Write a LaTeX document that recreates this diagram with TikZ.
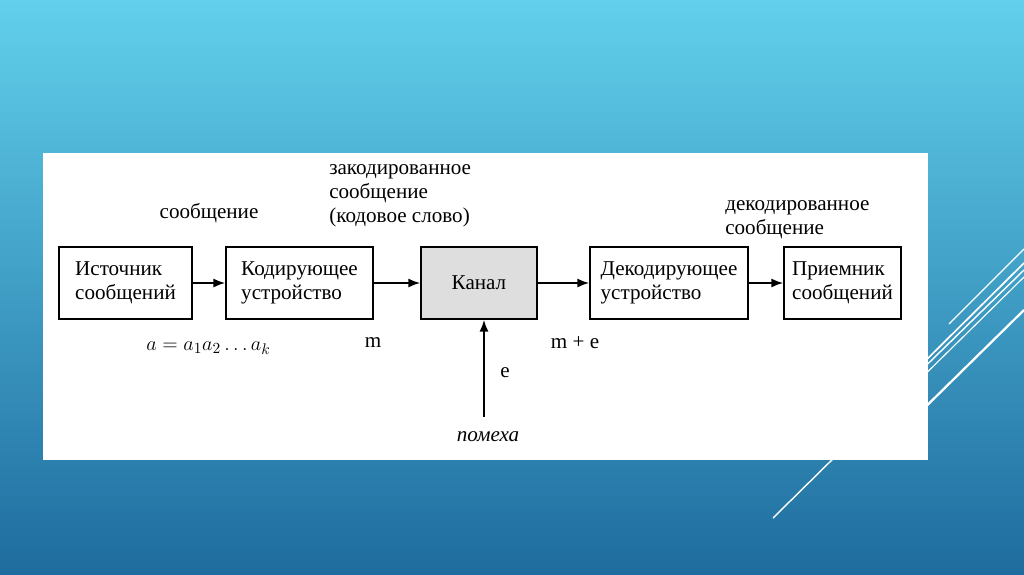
\documentclass[tikz,border=0pt]{standalone}
\usepackage{fontspec}
\setmainfont{Liberation Serif}
\usetikzlibrary{arrows.meta,positioning}
\definecolor{bgtop}{RGB}{98,208,236}
\definecolor{bgbot}{RGB}{30,108,158}
\definecolor{chgray}{RGB}{222,222,222}
\tikzset{
  blk/.style={draw, line width=1pt, minimum height=1.8cm, align=left, inner sep=2pt},
  lbl/.style={align=left, inner sep=0pt},
  flow/.style={-{Latex[length=3mm,width=2.3mm]}, line width=1.4pt},
  deco/.style={white, line width=#1},
}
\begin{document}
\begin{tikzpicture}[x=0.025cm, y=-0.025cm, font=\fontsize{15}{17}\selectfont]
    % Background
    \shade[top color=bgtop, bottom color=bgbot] (0,0) rectangle (1024,574);
    \useasboundingbox (0,0) rectangle (1024,574);
    % Decorative lines
    \draw[deco=0.8pt] (949,324) -- (1024,249);
    \draw[deco=1.2pt] (900,386) -- (1024,263);
    \draw[deco=1pt] (900,391) -- (1024,270);
    \draw[deco=0.8pt] (900,399) -- (1024,277);
    \draw[deco=1.6pt] (900,432) -- (1024,310);
    \draw[deco=1pt] (773,518) -- (850,442);
    % Sheet
    \fill[white] (43,153) rectangle (928,460);
    % Blocks
    \node[blk, minimum width=3.325cm] (src) at (125.5,283) {Источник\\сообщений};
    \node[blk, minimum width=3.675cm] (enc) at (299.5,283) {Кодирующее\\устройство};
    \node[blk, minimum width=2.9cm, fill=chgray] (ch) at (479,283) {Канал};
    \node[blk, minimum width=3.95cm] (dec) at (669,283) {Декодирующее\\устройство};
    \node[blk, minimum width=2.925cm] (rcv) at (842.5,283) {Приемник\\сообщений};
    % Arrows
    \draw[flow] (src) -- (enc);
    \draw[flow] (enc) -- (ch);
    \draw[flow] (ch) -- (dec);
    \draw[flow] (dec) -- (rcv);
    \coordinate (noise) at (484,417);
    \draw[flow] (noise) -- (noise |- ch.south);
    % Labels
    \node[lbl] (msg) at (209,213) {сообщение};
    \node[lbl, anchor=west] (coded) at (329,196) {закодированное\\сообщение\\(кодовое слово)};
    \node[lbl, anchor=west] (decoded) at (725,220) {декодированное\\сообщение};
    \node[lbl, anchor=west] (word) at (146,348) {$a= a_1a_2\ldots a_k$};
    \node[lbl] (m) at (373,343) {m};
    \node[lbl] (me) at (575,343) {m + e};
    \node[lbl] (e) at (505,373) {e};
    \node[lbl] (noisetxt) at (488,437) {\itshape помеха};
\end{tikzpicture}
\end{document}
